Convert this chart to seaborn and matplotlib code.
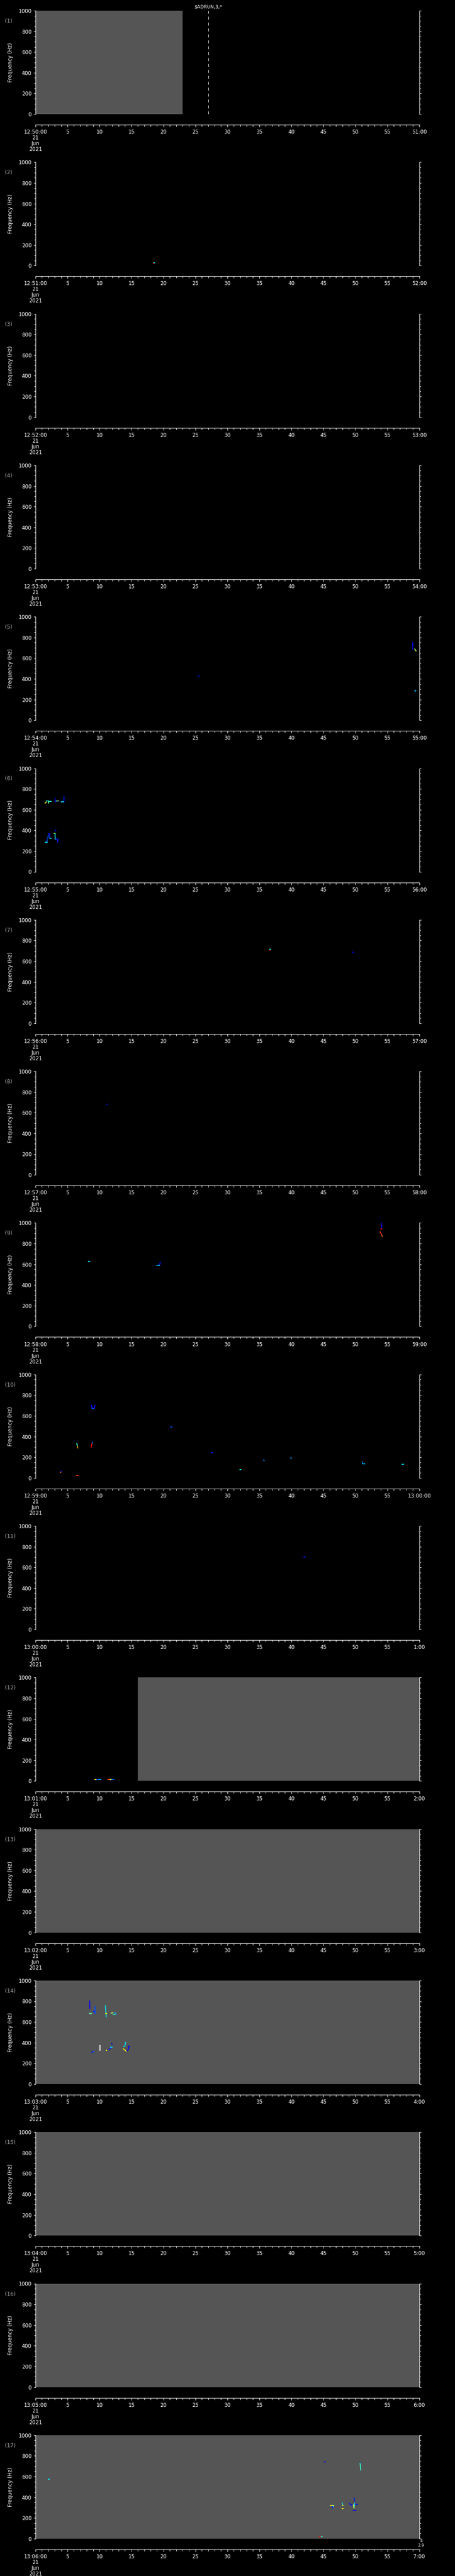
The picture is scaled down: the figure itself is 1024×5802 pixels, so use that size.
import numpy as np
import pandas as pd
import matplotlib
matplotlib.use("Agg")
import matplotlib.pyplot as plt
from matplotlib.ticker import FixedLocator, MultipleLocator
import seaborn as sns

# ---------------- data ----------------
start_labels = ["12:50:00", "12:51:00", "12:52:00", "12:53:00", "12:54:00", "12:55:00",
                "12:56:00", "12:57:00", "12:58:00", "12:59:00", "13:00:00", "13:01:00",
                "13:02:00", "13:03:00", "13:04:00", "13:05:00", "13:06:00"]
end_labels = ["51:00", "52:00", "53:00", "54:00", "55:00", "56:00", "57:00", "58:00",
              "59:00", "13:00:00", "1:00", "2:00", "3:00", "4:00", "5:00", "6:00", "7:00"]
date_label = "21\nJun\n2021"
mid_tick_labels = ["5", "10", "15", "20", "25", "30", "35", "40", "45", "50", "55"]
freq_ticks = [0, 200, 400, 600, 800, 1000]

# no-data (gray) intervals, seconds within the minute
gap_panel = [1, 12, 13, 14, 15, 16, 17]
gap_start = [0, 16, 0, 0, 0, 0, 0]
gap_end = [23, 60, 60, 60, 60, 60, 60]

# event marker
event_panel = 1
event_time = 27
event_text = "\\$ADRUN,3,*"

# spectral features: (t0 s, f0 Hz, t1 s, f1 Hz, relative power 0..1, >1 saturated)
marks_p02 = [(18.4, 24, 18.5, 24, 0.9), (18.5, 26, 18.65, 26, 0.35)]
marks_p05 = [(25.5, 427, 25.6, 427, 0.15), (59.0, 752, 59.0, 689, 0.1),
             (59.3, 689, 59.5, 670, 0.55), (59.35, 288, 59.5, 288, 0.3),
             (59.35, 288, 59.35, 276, 0.3)]
marks_p06 = [(1.5, 664, 1.7, 674, 0.65), (1.7, 684, 2.0, 684, 0.35), (2.0, 684, 2.0, 664, 0.45),
             (2.1, 680, 2.45, 680, 0.4), (3.05, 712, 3.05, 676, 0.12), (3.05, 680, 3.3, 680, 0.15),
             (3.3, 684, 3.6, 684, 0.5), (4.0, 678, 4.4, 678, 0.35), (4.45, 676, 4.45, 726, 0.15),
             (1.5, 285, 1.8, 285, 0.35), (1.8, 280, 1.8, 310, 0.2), (1.9, 325, 2.0, 350, 0.2),
             (2.0, 365, 2.2, 365, 0.15), (2.2, 365, 2.25, 325, 0.15), (2.25, 325, 2.43, 325, 0.35),
             (2.9, 370, 3.06, 370, 0.5), (3.06, 370, 3.06, 315, 0.35), (3.06, 315, 3.5, 315, 0.15),
             (3.5, 315, 3.5, 285, 0.15), (3.05, 395, 3.2, 405, 0.12)]
marks_p07 = [(36.55, 708, 36.65, 708, 0.9), (36.65, 714, 36.75, 714, 0.35),
             (49.55, 690, 49.7, 684, 0.12)]
marks_p08 = [(11.1, 682, 11.25, 682, 0.15)]
marks_p09 = [(8.3, 629, 8.45, 629, 0.35), (18.96, 590, 19.4, 590, 0.3),
             (19.4, 593, 19.5, 619, 0.15), (54.1, 997, 54.1, 941, 0.12),
             (54.0, 941, 54.1, 941, 0.9), (53.9, 914, 54.2, 871, 0.85),
             (54.2, 871, 54.3, 871, 0.4)]
marks_p10 = [(3.95, 55, 4.05, 65, 0.15), (3.9, 56, 3.95, 56, 0.8), (6.4, 26, 6.7, 26, 0.85),
             (6.45, 332, 6.55, 305, 0.4), (6.55, 305, 6.6, 289, 0.75), (8.7, 298, 8.8, 330, 0.9),
             (8.8, 330, 8.9, 344, 0.25), (8.75, 702, 8.85, 673, 0.12), (8.85, 673, 9.15, 673, 0.2),
             (9.2, 673, 9.3, 702, 0.12), (21.15, 494, 21.3, 494, 0.2), (27.55, 245, 27.7, 245, 0.12),
             (31.95, 82, 32.1, 82, 0.35), (35.65, 172, 35.75, 166, 0.25), (39.85, 193, 40.0, 193, 0.3),
             (51.1, 155, 51.15, 138, 0.25), (51.15, 138, 51.5, 138, 0.3), (57.35, 133, 57.5, 133, 0.35)]
marks_p11 = [(42.0, 700, 42.15, 700, 0.15)]
marks_p12 = [(9.3, 15, 9.45, 15, 0.65), (9.5, 15, 9.6, 15, 0.15), (9.8, 15, 10.2, 15, 0.25),
             (11.3, 15, 11.5, 15, 0.85), (11.5, 15, 11.8, 15, 0.6), (11.8, 15, 12.2, 15, 0.2)]
marks_p14 = [(8.51, 803, 8.51, 731, 0.12), (8.38, 682, 8.74, 682, 0.45), (9.06, 703, 9.2, 697, 0.15),
             (9.33, 748, 9.33, 681, 0.2), (10.93, 757, 11.05, 650, 0.35), (11.0, 682, 11.15, 682, 0.65),
             (11.83, 685, 12.1, 691, 0.55), (12.1, 676, 12.4, 670, 0.4), (12.4, 691, 12.6, 676, 0.3),
             (8.8, 305, 9.0, 316, 0.15), (9.0, 316, 9.2, 311, 0.2), (10.1, 371, 10.1, 324, 1.1),
             (10.0, 324, 10.1, 324, 0.9), (11.06, 324, 11.15, 324, 0.65), (11.47, 333, 11.93, 356, 0.15),
             (11.75, 356, 11.93, 356, 0.35), (11.9, 391, 11.95, 385, 0.12), (13.74, 366, 13.95, 366, 0.35),
             (13.95, 366, 14.1, 402, 0.35), (13.74, 340, 14.2, 316, 0.65), (14.2, 316, 14.5, 334, 0.12),
             (14.5, 334, 14.6, 366, 0.12), (14.6, 366, 14.74, 362, 0.12)]
marks_p17 = [(2.0, 575, 2.12, 575, 0.35), (45.15, 742, 45.3, 742, 0.12),
             (50.75, 727, 50.85, 662, 0.4), (50.75, 730, 50.8, 727, 0.15),
             (46.1, 323, 46.6, 323, 0.65), (46.4, 323, 46.45, 297, 0.15), (46.5, 323, 46.55, 310, 0.35),
             (47.95, 345, 48.0, 323, 0.35), (48.0, 323, 48.1, 323, 0.65), (47.95, 290, 48.1, 290, 0.65),
             (49.1, 340, 49.3, 325, 0.15), (49.3, 325, 49.7, 325, 0.12), (49.7, 325, 49.8, 297, 0.6),
             (49.8, 297, 49.9, 340, 0.35), (49.9, 335, 50.3, 330, 0.12), (49.8, 393, 49.9, 364, 0.15),
             (49.7, 272, 50.1, 272, 0.12), (44.4, 21, 44.55, 21, 0.9), (44.55, 21, 44.85, 21, 0.4)]
marks_by_panel = {2: marks_p02, 5: marks_p05, 6: marks_p06, 7: marks_p07, 8: marks_p08,
                  9: marks_p09, 10: marks_p10, 11: marks_p11, 12: marks_p12, 14: marks_p14,
                  17: marks_p17}
extra_right_labels = ["4", "2.9"]

# ---------------- build table ----------------
rows = []
seg_id = 0
for p, marks in marks_by_panel.items():
    for (t0, f0, t1, f1, pw) in marks:
        rows.append((p, seg_id, t0, f0, pw))
        rows.append((p, seg_id, t1, f1, pw))
        seg_id += 1
df_all = pd.DataFrame(rows, columns=["panel", "seg", "t", "f", "power"])

jet = plt.get_cmap("jet")
def power_color(v):
    return "#ffffff" if v > 1 else jet(v)
palette = {v: power_color(v) for v in sorted(df_all["power"].unique())}

# ---------------- style ----------------
sns.set_theme(style="dark", rc={"figure.facecolor": "black", "axes.facecolor": "black",
                                "savefig.facecolor": "black"})
plt.rcParams["font.family"] = ["DejaVu Sans"]

W, H = 1024, 5802
DPI = 100
fig = plt.figure(figsize=(W / DPI, H / DPI), dpi=DPI)
fig.patch.set_facecolor("black")

PANEL_STEP = 341.3
AX_TOP0 = 24.0
AX_H = 233.0
AX_L = 80.0
AX_W = 863.5
FS = 8.5

def fx(px):
    return px / W
def fy(py):
    return 1 - py / H

for k in range(17):
    pnum = k + 1
    top = AX_TOP0 + k * PANEL_STEP
    ax = fig.add_axes([fx(AX_L), fy(top + AX_H), AX_W / W, AX_H / H])
    ax.set_facecolor("black")

    for gp, g0, g1 in zip(gap_panel, gap_start, gap_end):
        if gp == pnum:
            ax.axvspan(g0, g1, color="#555555", lw=0, zorder=0.5)

    sub = df_all[df_all["panel"] == pnum]
    if len(sub):
        sns.lineplot(data=sub, x="t", y="f", units="seg", estimator=None, sort=False,
                     hue="power", palette=palette, legend=False, ax=ax, lw=1.5,
                     solid_capstyle="projecting", zorder=3)

    if pnum == event_panel:
        ax.axvline(event_time, color="white", lw=0.8, ls=(0, (6, 6)), zorder=4)
        fig.text(fx(AX_L + event_time / 60 * AX_W), fy(15.7), event_text, color="white",
                 fontsize=7.5, ha="center", va="center")

    ax.set_xlim(0, 60)
    ax.set_ylim(0, 1000)
    ax.set_xlabel("")
    ax.set_ylabel("")
    ax.grid(False)

    # spines
    ax.spines["top"].set_visible(False)
    for s in ["left", "right", "bottom"]:
        ax.spines[s].set_visible(True)
        ax.spines[s].set_color("white")
        ax.spines[s].set_linewidth(0.8)
    ax.spines["bottom"].set_position(("outward", 24 * 72 / DPI))

    # x axis
    ax.xaxis.set_major_locator(FixedLocator(np.arange(0, 61, 5)))
    ax.xaxis.set_minor_locator(MultipleLocator(1))
    ax.set_xticklabels([start_labels[k] + "\n" + date_label] + mid_tick_labels + [end_labels[k]])
    for lab in ax.get_xticklabels():
        lab.set_linespacing(1.0)
    ax.tick_params(axis="x", which="both", bottom=True, direction="out", colors="white",
                   labelsize=FS, width=0.8, pad=4.0)
    ax.tick_params(axis="x", which="major", length=3.3)
    ax.tick_params(axis="x", which="minor", length=2.6)

    # y axis
    ax.yaxis.set_major_locator(FixedLocator(freq_ticks))
    ax.yaxis.set_minor_locator(MultipleLocator(50))
    ax.set_yticklabels([str(v) for v in freq_ticks])
    ax.tick_params(axis="y", which="both", left=True, right=True, labelright=False,
                   direction="out", colors="white", labelsize=FS, width=0.8, pad=3.5)
    ax.tick_params(axis="y", which="major", length=3.0)
    ax.tick_params(axis="y", which="minor", length=2.0)

    fig.text(fx(23.5), fy(top + AX_H / 2), "Frequency (Hz)", rotation=90, color="white",
             fontsize=FS, ha="center", va="center")
    fig.text(fx(11.5), fy(top + 23.5), f"({pnum})", color="#a8a8a8", fontsize=FS,
             ha="left", va="center")

    if pnum == 17:
        fig.text(fx(948), fy(top + AX_H + 5.5), extra_right_labels[0], color="white",
                 fontsize=6.5, ha="center", va="center")
        fig.text(fx(947), fy(top + AX_H + 15.5), extra_right_labels[1], color="white",
                 fontsize=6.5, ha="center", va="center")

fig.savefig("out.png", dpi=DPI, facecolor="black")
